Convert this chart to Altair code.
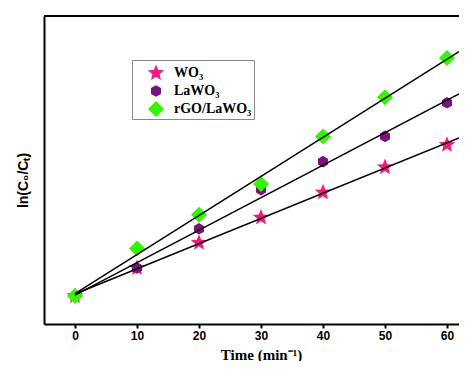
import altair as alt
import pandas as pd

time_min = [0, 10, 20, 30, 40, 50, 60]
series_names = ["WO₃", "LaWO₃", "rGO/LaWO₃"]
wo3 = [0.0, 0.10, 0.19, 0.28, 0.37, 0.46, 0.54]
lawo3 = [0.0, 0.10, 0.24, 0.38, 0.48, 0.57, 0.69]
rgo_lawo3 = [0.0, 0.17, 0.29, 0.40, 0.57, 0.71, 0.85]
x_ticks = [0, 5, 10, 15, 20, 25, 30, 35, 40, 45, 50, 55, 60]

rows = []
for name, vals in zip(series_names, [wo3, lawo3, rgo_lawo3]):
    for t, v in zip(time_min, vals):
        rows.append({"t": t, "y": v, "series": name})
df = pd.DataFrame(rows)

# symbol paths (unit box -1..1, drawn at size 400 => 10 px per unit)
STAR = ("M0,-0.86 L0.22,-0.3 L0.818,-0.266 L0.356,0.116 L0.505,0.696 L0,0.374 "
        "L-0.505,0.696 L-0.356,0.116 L-0.818,-0.266 L-0.22,-0.3 Z")
HEX = "M0,-0.58 L0.502,-0.29 L0.502,0.29 L0,0.58 L-0.502,0.29 L-0.502,-0.29 Z"
DIAMOND = "M0,-0.8 L0.8,0 L0,0.8 L-0.8,0 Z"

X_MAX = 61.94
xscale = alt.Scale(domain=[-5, X_MAX], nice=False, zero=False)
yscale = alt.Scale(domain=[-0.1, 1.0], nice=False, zero=False)

xaxis = alt.Axis(
    values=x_ticks,
    labelExpr="datum.value % 10 == 0 ? datum.label : ''",
    title="Time (min⁻¹)",
    titleFont="Liberation Serif", titleFontSize=15, titleFontWeight="bold",
    titleColor="black",
    titleX=217, titleY=35, titleBaseline="alphabetic", titleAlign="center",
    labelFont="Liberation Sans", labelFontSize=12, labelFontWeight="bold",
    labelColor="black", labelPadding=2,
    tickSize=4, tickWidth=2, tickColor="black",
    domainWidth=2, domainColor="black", grid=False,
)
yaxis = alt.Axis(
    labels=False, ticks=False, grid=False,
    title="ln(C₀/Cₜ)",
    titleFont="Liberation Sans", titleFontSize=14, titleFontWeight="bold",
    titleColor="black", titleY=164, titleAlign="center",
    titlePadding=14,
    domainWidth=2, domainColor="black",
)

legend = alt.Legend(title=None, orient="none", legendX=88, legendY=44,
                    strokeColor="#888888", padding=2, fillColor="white",
                    labelFont="Liberation Serif", labelFontSize=14,
                    labelFontWeight="bold", labelColor="black",
                    labelExpr="datum.label + '\u00a0\u00a0'",
                    symbolSize=400, rowPadding=0, labelOffset=7, symbolOffset=11)

points = alt.Chart(df).mark_point(filled=True, opacity=1, strokeWidth=0, size=400).encode(
    x=alt.X("t:Q", scale=xscale, axis=xaxis),
    y=alt.Y("y:Q", scale=yscale, axis=yaxis),
    shape=alt.Shape("series:N", scale=alt.Scale(domain=series_names, range=[STAR, HEX, DIAMOND]),
                    legend=legend),
    color=alt.Color("series:N", scale=alt.Scale(domain=series_names,
                                                range=["#F2187F", "#7A127E", "#33F500"]),
                    legend=legend),
)

fits = alt.Chart(df).transform_regression(
    "t", "y", groupby=["series"], extent=[0, X_MAX]
).mark_line(color="black", strokeWidth=1.5, clip=True).encode(
    x=alt.X("t:Q", scale=xscale),
    y=alt.Y("y:Q", scale=yscale),
    detail="series:N",
)

top = alt.Chart(pd.DataFrame({"y": [1.0]})).mark_rule(color="black", strokeWidth=2).encode(
    y=alt.Y("y:Q", scale=yscale),
)

chart = alt.layer(top, points, fits).properties(
    width=415, height=308,
    autosize=alt.AutoSizeParams(type="none"),
    padding={"left": 36, "top": 8, "right": 0, "bottom": 37},
).configure_view(stroke=None)

chart.save("out.html", embed_options={"renderer": "svg", "actions": False})
